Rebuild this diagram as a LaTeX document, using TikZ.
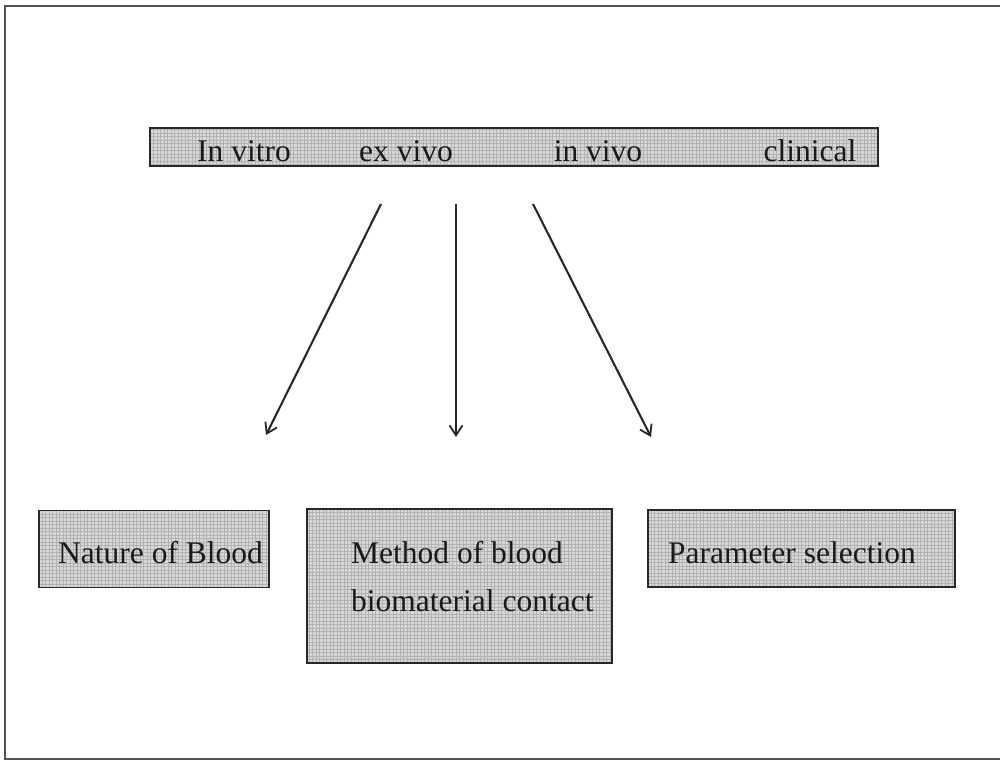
\documentclass[tikz,border=0pt]{standalone}
\usepackage{fontspec}
\setmainfont{Liberation Serif}
\usetikzlibrary{arrows.meta}
\definecolor{boxfill}{RGB}{216,216,216}
\definecolor{boxgrid}{RGB}{178,178,178}
\definecolor{inkline}{RGB}{40,40,40}
\begin{document}
\begin{tikzpicture}[x=1pt,y=-1pt,
  shaded box/.style={draw=inkline, line width=1.8pt, fill=boxfill, inner sep=0pt,
    path picture={\draw[boxgrid, line width=0.45pt, step=3.5pt]
      (path picture bounding box.south west) grid (path picture bounding box.north east);}},
  lbl/.style={font=\fontsize{31.5}{38}\selectfont, text=black!90, inner sep=0pt, anchor=base west},
  link/.style={draw=inkline, line width=2.1pt, -{Straight Barb[length=10pt,width=13pt,line width=1.8pt]}}]
\useasboundingbox (0,0) rectangle (1000,762);
% outer frame
\draw[inkline!80, line width=2pt] (1004,6) -- (5,6) -- (5,759) -- (1004,759);

% stage bar
\node[shaded box, minimum width=728pt, minimum height=38pt] (bar) at (514,147) {};
\node[lbl, anchor=base] (vitro) at (244,161) {In vitro};
\node[lbl, anchor=base] (exvivo) at (406,161) {ex vivo};
\node[lbl, anchor=base] (invivo) at (598,161) {in vivo};
\node[lbl, anchor=base] (clin) at (810,161) {clinical};

% lower boxes
\node[shaded box, minimum width=230pt, minimum height=77pt] (nature) at (154,549) {};
\node[lbl] (natureT) at (58,563) {Nature of Blood};
\node[shaded box, minimum width=305pt, minimum height=154pt] (method) at (459.5,586) {};
\node[lbl] (methodA) at (351,563) {Method of blood};
\node[lbl] (methodB) at (351,611) {biomaterial contact};
\node[shaded box, minimum width=307pt, minimum height=77pt] (param) at (801.5,548.5) {};
\node[lbl] (paramT) at (668,563) {Parameter selection};

% connectors
\coordinate (s1) at (381,204);
\coordinate (s2) at (456,204);
\coordinate (s3) at (533,204);
\coordinate (e1) at (266,435);
\coordinate (e2) at (456,437);
\coordinate (e3) at (651,437);
\draw[link] (s1) -- (e1);
\draw[link] (s2) -- (e2);
\draw[link] (s3) -- (e3);
\end{tikzpicture}
\end{document}
